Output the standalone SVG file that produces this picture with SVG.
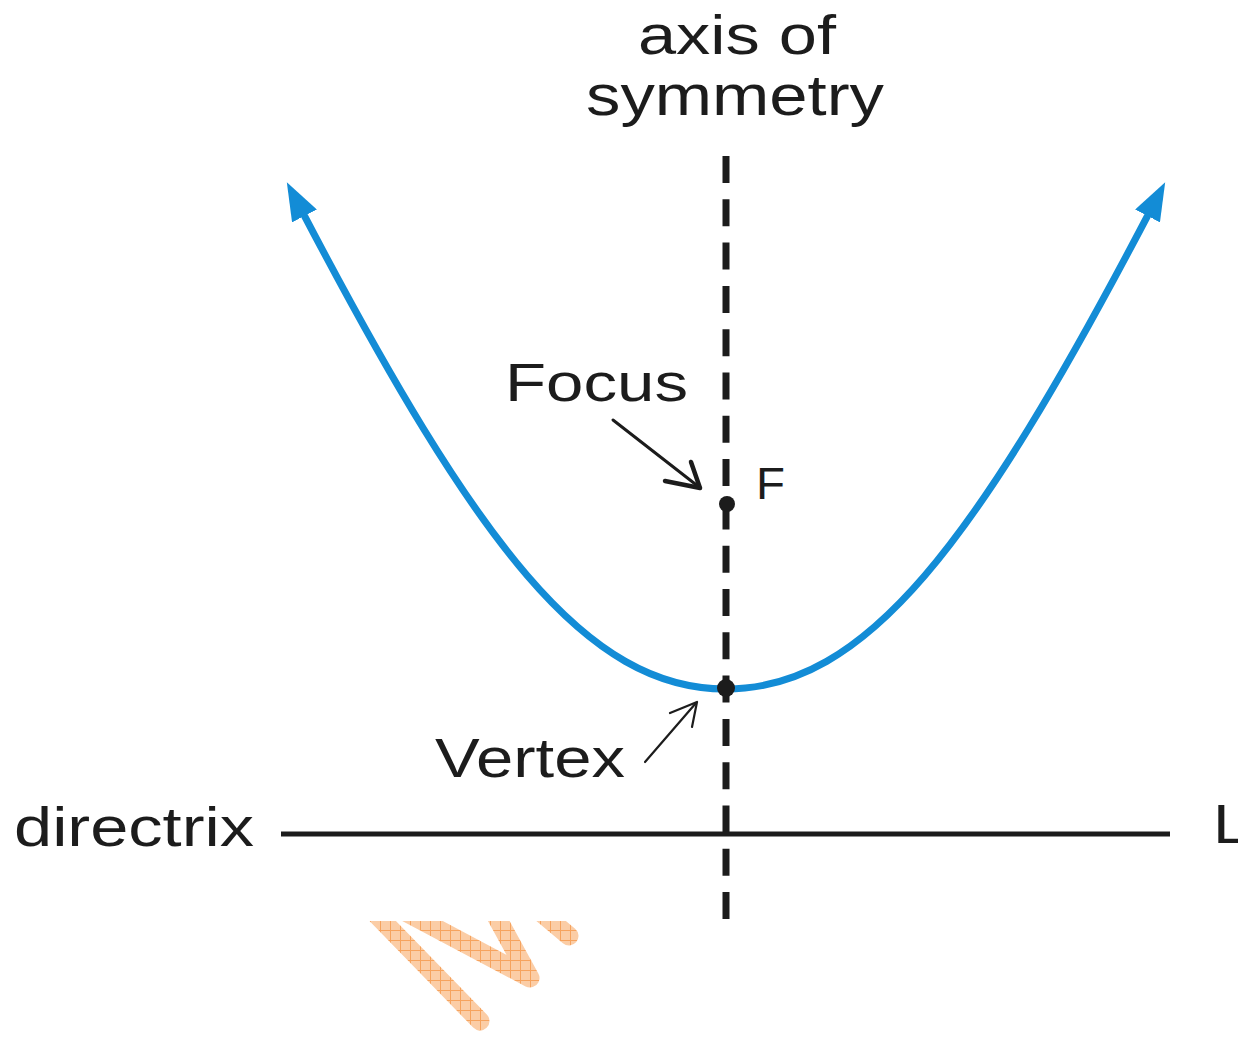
<svg xmlns="http://www.w3.org/2000/svg" width="1238" height="1037" viewBox="0 0 1238 1037">
  <style>
    .lbl { font-family: "Liberation Sans", Arial, sans-serif; fill: #1c1c1c; }
    .axis { stroke: #1c1c1c; stroke-width: 7; stroke-dasharray: 27 16.3; fill: none; }
    .curve { stroke: #138cd6; stroke-width: 7; fill: none; }
    .ptr { stroke: #1c1c1c; fill: none; stroke-linecap: round; stroke-linejoin: round; }
    .wm { stroke: url(#hatch); stroke-width: 19; fill: none; stroke-linecap: round; stroke-linejoin: round; }
  </style>
  <defs>
    <marker id="blueHead" markerUnits="userSpaceOnUse" viewBox="0 0 38 28" markerWidth="38" markerHeight="28" refX="1" refY="14" orient="auto-start-reverse">
      <path d="M0,0 L38,14 L0,28 z" fill="#138cd6"/>
    </marker>
    <pattern id="hatch" patternUnits="userSpaceOnUse" width="10" height="10">
      <rect width="10" height="10" fill="#fbcda6"/>
      <path d="M0,0.5 H10 M0.5,0 V10" stroke="#f6a35e" stroke-width="1"/>
    </pattern>
    <clipPath id="wmClip">
      <rect x="300" y="921" width="400" height="116"/>
    </clipPath>
  </defs>
  <rect width="1238" height="1037" fill="#ffffff"/>

  <g id="watermark" clip-path="url(#wmClip)">
    <path class="wm" d="M 372 910 L 480 1021"/>
    <path class="wm" d="M 398 908 L 530 978 L 490 905"/>
    <path class="wm" d="M 538 910 L 569 936"/>
  </g>

  <g id="connectors">
    <line id="directrix-line" x1="281" y1="834" x2="1170" y2="834" stroke="#1c1c1c" stroke-width="5"/>
    <line id="axis-line" class="axis" x1="726" y1="156" x2="726" y2="920"/>
    <path id="parabola" class="curve" d="M 304 215 C 477 545 586 689 726 689 C 866 689 975 545 1148 215" marker-start="url(#blueHead)" marker-end="url(#blueHead)"/>
    <g id="focus-pointer">
      <line class="ptr" x1="613" y1="420" x2="699" y2="487" stroke-width="3"/>
      <polyline class="ptr" points="665,481 700,488 691,462" stroke-width="4.5"/>
    </g>
    <g id="vertex-pointer">
      <line class="ptr" x1="645" y1="762" x2="696" y2="703" stroke-width="2.2"/>
      <polyline class="ptr" points="670,713 697,702 692,727" stroke-width="2.2"/>
    </g>
  </g>

  <g id="node-axis-label">
    <text class="lbl" x="638" y="54" font-size="56" textLength="198" lengthAdjust="spacingAndGlyphs">axis of</text>
    <text class="lbl" x="586" y="115" font-size="58" textLength="298" lengthAdjust="spacingAndGlyphs">symmetry</text>
  </g>
  <g id="node-focus">
    <text class="lbl" x="505" y="401" font-size="53" textLength="183" lengthAdjust="spacingAndGlyphs">Focus</text>
    <circle cx="727" cy="504" r="8" fill="#1c1c1c"/>
    <text class="lbl" x="756" y="499" font-size="45" textLength="29" lengthAdjust="spacingAndGlyphs">F</text>
  </g>
  <g id="node-vertex">
    <circle cx="726" cy="688" r="9" fill="#1c1c1c"/>
    <text class="lbl" x="435" y="777" font-size="55" textLength="190" lengthAdjust="spacingAndGlyphs">Vertex</text>
  </g>
  <g id="node-directrix">
    <text class="lbl" x="14" y="846" font-size="56" textLength="240" lengthAdjust="spacingAndGlyphs">directrix</text>
    <text class="lbl" x="1213" y="843" font-size="56" textLength="36" lengthAdjust="spacingAndGlyphs">L</text>
  </g>
</svg>
